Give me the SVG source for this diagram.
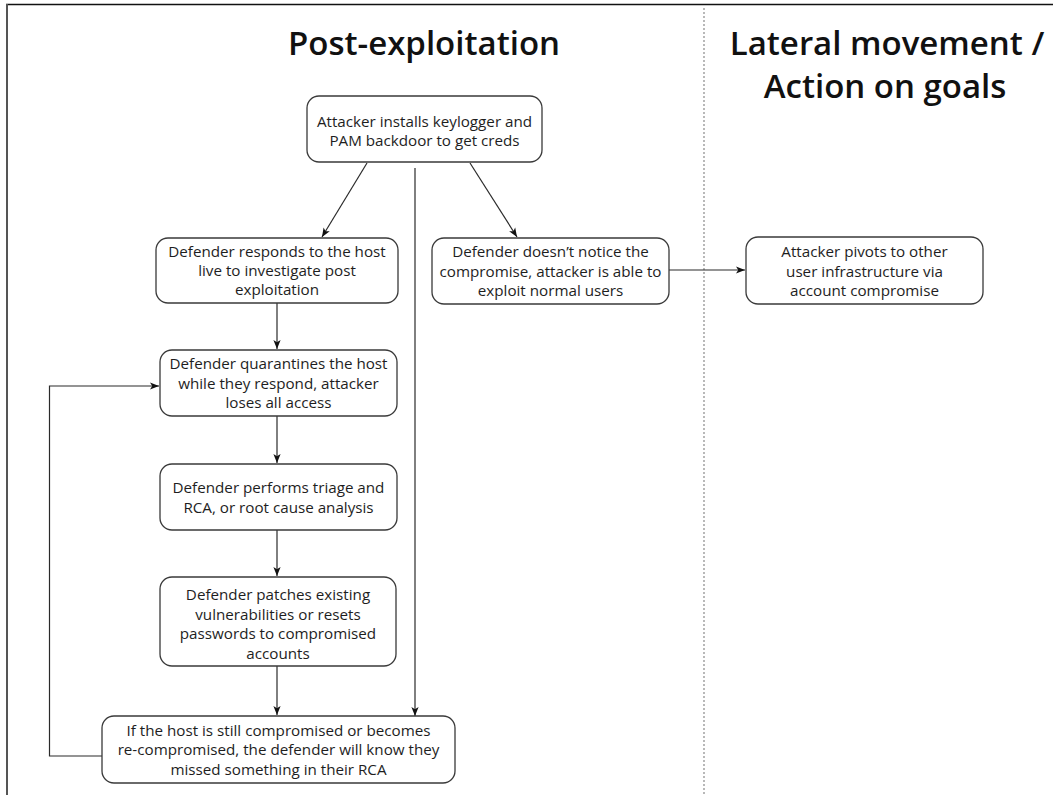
<svg xmlns="http://www.w3.org/2000/svg" width="1056" height="795" viewBox="0 0 1056 795">
  <style>
    .box { fill: #ffffff; stroke: #3a3a3a; stroke-width: 1.3; }
    .lbl { font-family: "Open Sans", "Noto Sans", "Liberation Sans", sans-serif; font-size: 15.2px; fill: #1e1e1e; text-anchor: middle; }
    .title { font-family: "Open Sans", "Noto Sans", "Liberation Sans", sans-serif; font-size: 33px; font-weight: 600; fill: #111111; text-anchor: middle; }
    .edge { fill: none; stroke: #2a2a2a; stroke-width: 1.2; }
  </style>
  <defs>
    <marker id="arrow" viewBox="0 0 10 10" refX="10" refY="5" markerWidth="9" markerHeight="9" markerUnits="userSpaceOnUse" orient="auto">
      <path d="M0,1 L10,5 L0,9 L2.5,5 Z" fill="#111111"/>
    </marker>
  </defs>

  <rect width="1056" height="795" fill="#ffffff"/>

  <!-- frame and column divider -->
  <g id="frame">
    <line x1="6" y1="4.5" x2="1053" y2="4.5" stroke="#111111" stroke-width="1.5"/>
    <line x1="7" y1="4" x2="7" y2="795" stroke="#555555" stroke-width="2"/>
    <line x1="704" y1="8" x2="704" y2="795" stroke="#8a8a8a" stroke-width="1.2" stroke-dasharray="2 2"/>
  </g>

  <!-- column headings -->
  <g id="headings">
    <text class="title" x="424" y="55">Post-exploitation</text>
    <text class="title" x="887" y="55">Lateral movement /</text>
    <text class="title" x="885" y="98">Action on goals</text>
  </g>

  <!-- connectors -->
  <g id="connectors">
    <line class="edge" x1="367" y1="163" x2="322" y2="237" marker-end="url(#arrow)"/>
    <line class="edge" x1="470" y1="163" x2="517" y2="237" marker-end="url(#arrow)"/>
    <line class="edge" x1="415" y1="168" x2="415" y2="716" marker-end="url(#arrow)"/>
    <line class="edge" x1="669" y1="270" x2="745" y2="270" marker-end="url(#arrow)"/>
    <line class="edge" x1="277" y1="303" x2="277" y2="349" marker-end="url(#arrow)"/>
    <line class="edge" x1="277" y1="416" x2="277" y2="463" marker-end="url(#arrow)"/>
    <line class="edge" x1="277" y1="530" x2="277" y2="576" marker-end="url(#arrow)"/>
    <line class="edge" x1="277" y1="666" x2="277" y2="715" marker-end="url(#arrow)"/>
    <polyline class="edge" points="102,756 49.5,756 49.5,386 159,386" stroke="#6a6a6a" marker-end="url(#arrow)"/>
  </g>

  <g id="n-install">
    <rect class="box" x="307" y="96" width="235" height="66" rx="12"/>
    <text class="lbl" x="424.5" y="127">Attacker installs keylogger and</text>
    <text class="lbl" x="424.5" y="146">PAM backdoor to get creds</text>
  </g>

  <g id="n-respond">
    <rect class="box" x="156" y="238" width="242" height="65" rx="12"/>
    <text class="lbl" x="277" y="257">Defender responds to the host</text>
    <text class="lbl" x="277" y="276">live to investigate post</text>
    <text class="lbl" x="277" y="295">exploitation</text>
  </g>

  <g id="n-unnoticed">
    <rect class="box" x="432" y="238" width="237" height="66" rx="12"/>
    <text class="lbl" x="550.5" y="257">Defender doesn’t notice the</text>
    <text class="lbl" x="550.5" y="276.5">compromise, attacker is able to</text>
    <text class="lbl" x="550.5" y="296">exploit normal users</text>
  </g>

  <g id="n-pivot">
    <rect class="box" x="746" y="237" width="237" height="67" rx="12"/>
    <text class="lbl" x="864.5" y="257">Attacker pivots to other</text>
    <text class="lbl" x="864.5" y="276.5">user infrastructure via</text>
    <text class="lbl" x="864.5" y="296">account compromise</text>
  </g>

  <g id="n-quarantine">
    <rect class="box" x="160" y="350" width="237" height="66" rx="12"/>
    <text class="lbl" x="278.5" y="369">Defender quarantines the host</text>
    <text class="lbl" x="278.5" y="388.5">while they respond, attacker</text>
    <text class="lbl" x="278.5" y="408">loses all access</text>
  </g>

  <g id="n-triage">
    <rect class="box" x="160" y="464" width="237" height="66" rx="12"/>
    <text class="lbl" x="278.5" y="493">Defender performs triage and</text>
    <text class="lbl" x="278.5" y="512.5">RCA, or root cause analysis</text>
  </g>

  <g id="n-patch">
    <rect class="box" x="160" y="577" width="236" height="89" rx="12"/>
    <text class="lbl" x="278" y="600">Defender patches existing</text>
    <text class="lbl" x="278" y="619.5">vulnerabilities or resets</text>
    <text class="lbl" x="278" y="639">passwords to compromised</text>
    <text class="lbl" x="278" y="658.5">accounts</text>
  </g>

  <g id="n-recheck">
    <rect class="box" x="102" y="716" width="353" height="67" rx="12"/>
    <text class="lbl" x="278.5" y="735.5">If the host is still compromised or becomes</text>
    <text class="lbl" x="278.5" y="755">re-compromised, the defender will know they</text>
    <text class="lbl" x="278.5" y="774.5">missed something in their RCA</text>
  </g>
</svg>
